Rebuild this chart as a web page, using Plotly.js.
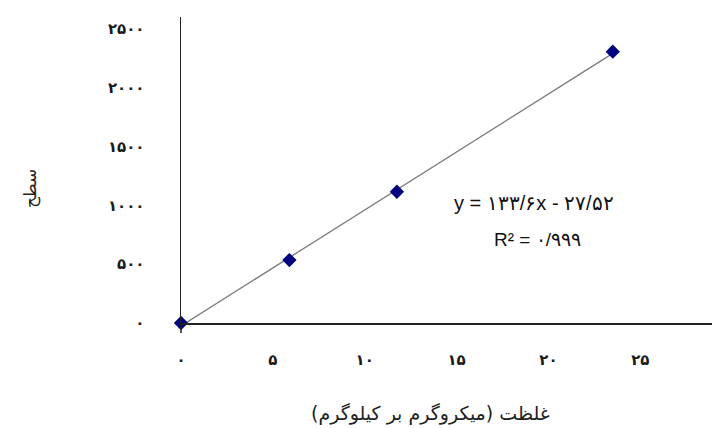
<!DOCTYPE html>
<html>
<head>
<meta charset="utf-8">
<script src="https://cdn.plot.ly/plotly-3.0.1.min.js"></script>
<style>html,body{margin:0;padding:0;background:#fff;}#chart{width:712px;height:428px;}</style>
</head>
<body>
<div id="chart"></div>
<script>
// Data
const concentration = [0, 5.9, 11.75, 23.5];
const area = [0, 535, 1115, 2305];
const xTickVals = [0, 5, 10, 15, 20, 25];
const xTickText = ['۰', '۵', '۱۰', '۱۵', '۲۰', '۲۵'];
const yTickVals = [0, 500, 1000, 1500, 2000, 2500];
const yTickText = ['۰', '۵۰۰', '۱۰۰۰', '۱۵۰۰', '۲۰۰۰', '۲۵۰۰'];
const xTitle = 'غلظت (میکروگرم بر کیلوگرم)';
const yTitle = 'سطح';
const equationText = 'y = ۱۳۳/۶x - ۲۷/۵۲';
const r2Text = 'R² = ۰/۹۹۹';

// least-squares trendline from the data
const n = concentration.length;
const mx = concentration.reduce((a, b) => a + b, 0) / n;
const my = area.reduce((a, b) => a + b, 0) / n;
let sxy = 0, sxx = 0;
for (let i = 0; i < n; i++) {
  sxy += (concentration[i] - mx) * (area[i] - my);
  sxx += (concentration[i] - mx) ** 2;
}
const slope = sxy / sxx;
const intercept = my - slope * mx;
const xMin = Math.min(...concentration), xMax = Math.max(...concentration);
const trendX = [xMin, xMax];
const trendY = trendX.map(x => slope * x + intercept);

const tickFont = {family: 'DejaVu Sans', size: 15, color: '#1a1a1a', weight: 'bold'};

const data = [
  {x: trendX, y: trendY, mode: 'lines', type: 'scatter', hoverinfo: 'skip',
   line: {color: '#7a7a7a', width: 1.3}, showlegend: false},
  {x: concentration, y: area, mode: 'markers', type: 'scatter',
   marker: {symbol: 'diamond', size: 11, color: '#000080'}, showlegend: false,
   cliponaxis: false}
];

const layout = {
  width: 712, height: 428,
  margin: {l: 181, r: 0, t: 17, b: 105, pad: 0},
  paper_bgcolor: '#fff', plot_bgcolor: '#fff',
  xaxis: {
    range: [0, 28.9], tickvals: xTickVals, ticktext: xTickText,
    showgrid: false, zeroline: false, showline: true, linecolor: '#222', linewidth: 1.5,
    ticks: '', ticklabelstandoff: 22, tickfont: tickFont,
    automargin: false
  },
  yaxis: {
    range: [0, 2600], tickvals: yTickVals, ticktext: yTickText,
    showgrid: false, zeroline: false, showline: true, linecolor: '#222', linewidth: 1.5,
    ticks: '', ticklabelstandoff: 32, tickfont: tickFont,
    automargin: false
  },
  shapes: [
    {type: 'line', xref: 'paper', yref: 'paper', x0: 0, x1: 0, y0: 0, y1: -0.033,
     line: {color: '#222', width: 1.5}}
  ],
  annotations: [
    // axis titles
    {xref: 'paper', yref: 'paper', x: (430 - 181) / 531, y: (323 - 413) / 306,
     xanchor: 'center', yanchor: 'middle', text: xTitle, showarrow: false,
     font: {family: 'DejaVu Sans', size: 19, color: '#222'}},
    {xref: 'paper', yref: 'paper', x: (30 - 181) / 531, y: (323 - 189) / 306,
     xanchor: 'center', yanchor: 'middle', textangle: -90, text: yTitle, showarrow: false,
     font: {family: 'DejaVu Sans', size: 17, color: '#222'}},
    // trendline equation
    {xref: 'paper', yref: 'paper', x: 0.510, y: 0.392, xanchor: 'left', text: equationText, showarrow: false,
     font: {family: 'Liberation Sans', size: 20, color: '#111'}},
    {xref: 'paper', yref: 'paper', x: 0.586, y: 0.232, xanchor: 'left', text: r2Text, showarrow: false,
     font: {family: 'Liberation Sans', size: 19, color: '#111'}}
  ]
};

Plotly.newPlot('chart', data, layout, {staticPlot: true, displayModeBar: false});
</script>
</body>
</html>
